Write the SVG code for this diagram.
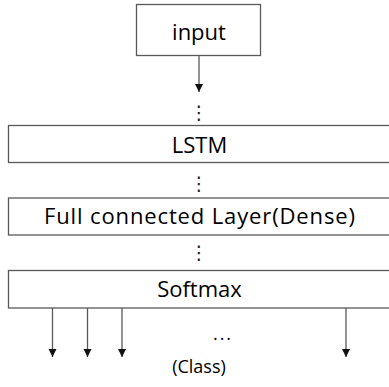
<svg xmlns="http://www.w3.org/2000/svg" width="389" height="387" viewBox="0 0 389 387">
<style>
.box{fill:#fff;stroke:#595959;stroke-width:1.3}
.lbl{font-family:"Open Sans","Noto Sans",sans-serif;font-size:22px;fill:#000;text-anchor:middle}
.vd{font-family:"DejaVu Sans",sans-serif;font-size:19px;fill:#222;text-anchor:middle}
.sm{font-family:"Open Sans","Noto Sans",sans-serif;font-size:18px;fill:#000;text-anchor:middle}
.conn line{stroke:#595959;stroke-width:1.3}
</style>
<defs>
<marker id="ah" markerUnits="userSpaceOnUse" markerWidth="9" markerHeight="9" refX="8" refY="4" orient="auto">
<path d="M0,0 L8,4 L0,8 z" fill="#111"/>
</marker>
</defs>
<rect width="389" height="387" fill="#fff"/>
<g id="input">
<rect class="box" x="136.5" y="4.5" width="124" height="51"/>
<text class="lbl" x="199" y="40">input</text>
</g>
<g id="lstm">
<rect class="box" x="8.5" y="125.5" width="390" height="37"/>
<text class="lbl" x="199.5" y="153">LSTM</text>
</g>
<g id="dense">
<rect class="box" x="8.5" y="198" width="390" height="37"/>
<text class="lbl" x="199.5" y="224" textLength="311" lengthAdjust="spacing">Full connected Layer(Dense)</text>
</g>
<g id="softmax">
<rect class="box" x="8.5" y="270.5" width="390" height="37.5"/>
<text class="lbl" x="199.5" y="297">Softmax</text>
</g>
<g id="connectors" class="conn">
<line x1="199" y1="56" x2="199" y2="92" marker-end="url(#ah)"/>
<line x1="52.5" y1="308" x2="52.5" y2="357" marker-end="url(#ah)"/>
<line x1="87.5" y1="308" x2="87.5" y2="357" marker-end="url(#ah)"/>
<line x1="122" y1="308" x2="122" y2="357" marker-end="url(#ah)"/>
<line x1="346" y1="308" x2="346" y2="357" marker-end="url(#ah)"/>
</g>
<text class="vd" x="199" y="119">⋮</text>
<text class="vd" x="199" y="190">⋮</text>
<text class="vd" x="199" y="259">⋮</text>
<text class="sm" x="223" y="340" letter-spacing="2">...</text>
<text class="sm" x="199" y="373">(Class)</text>
</svg>
